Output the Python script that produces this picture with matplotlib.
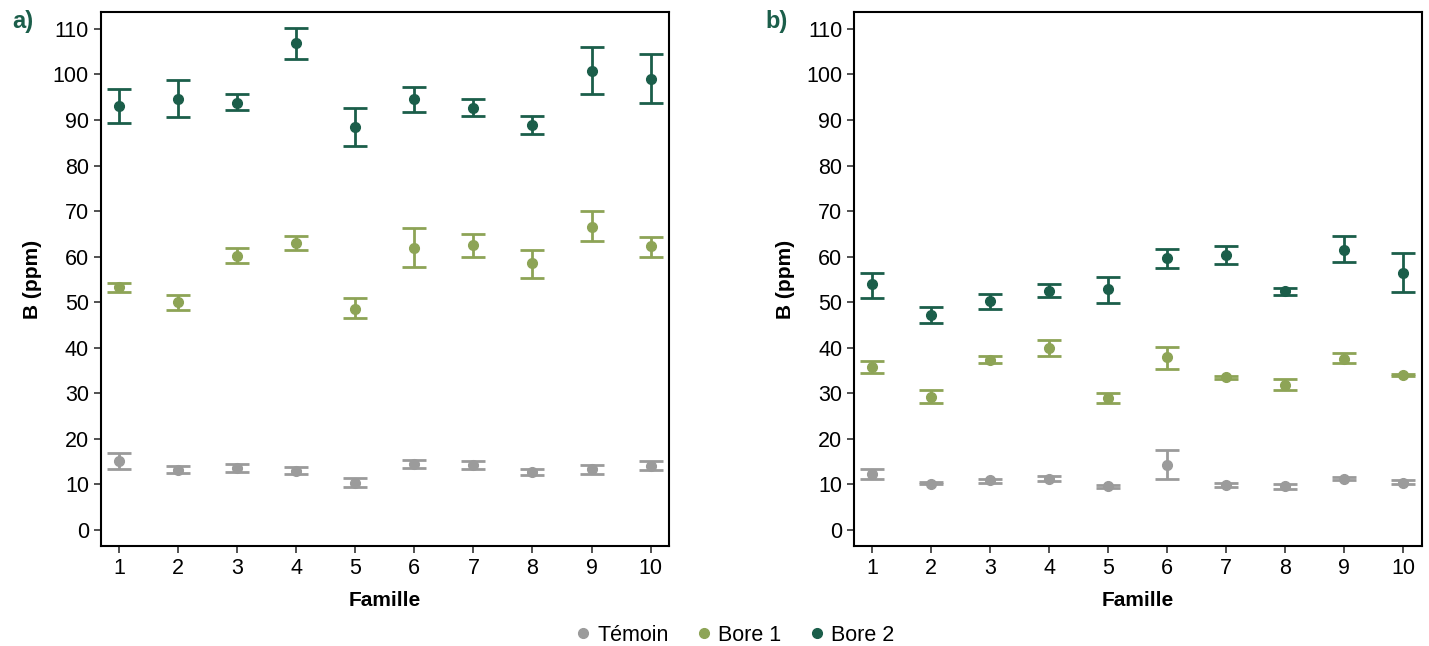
import numpy as np
import matplotlib.pyplot as plt

plt.rcParams['font.family'] = ['Liberation Sans', 'DejaVu Sans']

familles = [1, 2, 3, 4, 5, 6, 7, 8, 9, 10]
series = ['Témoin', 'Bore 1', 'Bore 2']
colors = {'Témoin': '#9b9b9b', 'Bore 1': '#8da456', 'Bore 2': '#1b5e4a'}

# panel a) - means, upper and lower bounds of the error bars
a_temoin = [15.1, 13.2, 13.6, 13.0, 10.3, 14.5, 14.3, 12.7, 13.3, 14.0]
a_temoin_hi = [17.0, 14.0, 14.5, 13.8, 11.4, 15.4, 15.2, 13.5, 14.3, 15.1]
a_temoin_lo = [13.5, 12.5, 12.7, 12.3, 9.4, 13.7, 13.3, 12.0, 12.3, 13.2]
a_bore1 = [53.3, 50.0, 60.1, 63.0, 48.6, 61.9, 62.5, 58.5, 66.6, 62.3]
a_bore1_hi = [54.3, 51.5, 61.8, 64.6, 51.0, 66.3, 65.0, 61.5, 70.1, 64.3]
a_bore1_lo = [52.2, 48.3, 58.6, 61.4, 46.5, 57.7, 60.0, 55.4, 63.4, 60.0]
a_bore2 = [93.0, 94.6, 93.75, 106.8, 88.5, 94.6, 92.7, 88.8, 100.8, 99.0]
a_bore2_hi = [96.7, 98.7, 95.6, 110.2, 92.6, 97.2, 94.6, 90.9, 106.0, 104.4]
a_bore2_lo = [89.4, 90.6, 92.1, 103.3, 84.3, 91.8, 90.8, 86.9, 95.6, 93.75]

# panel b)
b_temoin = [12.3, 10.2, 10.9, 11.2, 9.6, 14.3, 9.85, 9.6, 11.25, 10.4]
b_temoin_hi = [13.4, 10.5, 11.3, 11.8, 9.9, 17.5, 10.3, 10.1, 11.6, 11.0]
b_temoin_lo = [11.3, 10.0, 10.4, 10.7, 9.3, 11.25, 9.5, 9.0, 11.0, 10.0]
b_bore1 = [35.8, 29.3, 37.4, 40.0, 29.0, 37.9, 33.5, 31.8, 37.6, 34.0]
b_bore1_hi = [37.1, 30.7, 38.1, 41.8, 30.0, 40.2, 33.8, 33.2, 38.8, 34.3]
b_bore1_lo = [34.4, 27.8, 36.6, 38.3, 27.9, 35.4, 33.2, 30.8, 36.7, 33.7]
b_bore2 = [54.0, 47.1, 50.2, 52.5, 52.8, 59.6, 60.4, 52.4, 61.5, 56.5]
b_bore2_hi = [56.4, 49.0, 51.8, 54.0, 55.6, 61.7, 62.4, 53.1, 64.5, 60.7]
b_bore2_lo = [51.0, 45.4, 48.5, 51.25, 49.9, 57.4, 58.3, 51.5, 58.8, 52.2]

panels = {
    'a)': {'Témoin': (a_temoin, a_temoin_lo, a_temoin_hi),
           'Bore 1': (a_bore1, a_bore1_lo, a_bore1_hi),
           'Bore 2': (a_bore2, a_bore2_lo, a_bore2_hi)},
    'b)': {'Témoin': (b_temoin, b_temoin_lo, b_temoin_hi),
           'Bore 1': (b_bore1, b_bore1_lo, b_bore1_hi),
           'Bore 2': (b_bore2, b_bore2_lo, b_bore2_hi)},
}

fig = plt.figure(figsize=(14.29, 6.46), dpi=100)
ax_a = fig.add_axes([0.0705, 0.1548, 0.398, 0.826])
ax_b = fig.add_axes([0.5976, 0.1548, 0.3975, 0.826])

for ax, (tag, data) in zip([ax_a, ax_b], panels.items()):
    for name in series:
        mean, lo, hi = (np.array(v) for v in data[name])
        ax.errorbar(familles, mean, yerr=[mean - lo, hi - mean], fmt='o',
                    color=colors[name], ms=7, elinewidth=2, capsize=8.5,
                    capthick=2, label=name)
    ax.set_xlim(0.69, 10.32)
    ax.set_ylim(-3.5, 113.6)
    ax.set_xticks(familles)
    ax.set_yticks(np.arange(0, 111, 10))
    ax.tick_params(labelsize=15.5, length=5, width=1.2, color='#333333')
    for sp in ax.spines.values():
        sp.set_linewidth(1.5)
    ax.set_xlabel('Famille', fontsize=15, fontweight='bold', labelpad=9)
    ax.set_ylabel('B (ppm)', fontsize=15, fontweight='bold', labelpad=8)
    pos = ax.get_position()
    fig.text(pos.x0 - 0.062, 0.966, tag, fontsize=17, fontweight='bold',
             color='#1b5e4a', va='center')

handles = [plt.Line2D([], [], ls='', marker='o', ms=7, color=colors[n]) for n in series]
fig.legend(handles, series, loc='lower center', bbox_to_anchor=(0.513, -0.03),
           ncol=3, frameon=False, fontsize=15.5, handletextpad=0.15,
           columnspacing=1.15, handlelength=1.0)

fig.savefig('out.png', dpi=100)
